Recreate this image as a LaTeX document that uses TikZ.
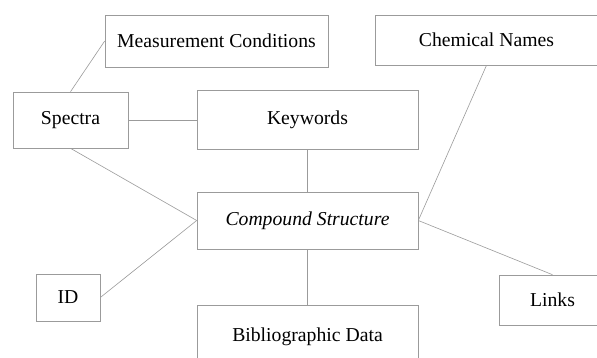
\documentclass[tikz,border=0pt]{standalone}
\usepackage{fontspec}
\setmainfont{Liberation Serif}
\usepackage{tikz}
\usetikzlibrary{positioning}
\definecolor{linegray}{RGB}{155,155,155}

\begin{document}
\begin{tikzpicture}[x=1pt, y=-1pt,
  box/.style={draw=linegray, line width=0.6pt, rectangle, inner sep=0pt,
    font=\fontsize{19.7}{22}\selectfont},
  link/.style={draw=linegray, line width=0.6pt}]

% Rahmen
\useasboundingbox (0,0) rectangle (597,358);
\clip (0,0) rectangle (597,358);
\fill[white] (0,0) rectangle (597,358);

% Kaesten
\node[box, minimum width=223pt, minimum height=52pt] (meas) at (216.5,41) {Measurement Conditions};
\node[box, minimum width=223pt, minimum height=50pt] (chem) at (486.5,40) {Chemical Names};
\node[box, minimum width=115pt, minimum height=56pt] (spectra) at (70.5,120) {Spectra};
\node[box, minimum width=221pt, minimum height=59pt] (keywords) at (307.5,120) {Keywords};
\node[box, minimum width=221pt, minimum height=57pt] (compound) at (307.5,220.5) {\itshape Compound Structure};
\node[box, minimum width=64pt, minimum height=47pt] (id) at (68,297.5) {ID};
\node[box, minimum width=221pt, minimum height=64pt] (biblio) at (307.5,337) {Bibliographic Data};
\node[box, minimum width=107pt, minimum height=50pt] (links) at (552.5,300) {Links};

% Verbindungen
\draw[link] (spectra.north) -- (meas.west);
\draw[link] (spectra.east) -- (keywords.west);
\draw[link] (spectra.south) -- (compound.west);
\draw[link] (id.east) -- (compound.west);
\draw[link] (keywords.south) -- (compound.north);
\draw[link] (compound.south) -- (biblio.north);
\draw[link] (chem.south) -- (compound.east);
\draw[link] (compound.east) -- (links.north);

\end{tikzpicture}
\end{document}
